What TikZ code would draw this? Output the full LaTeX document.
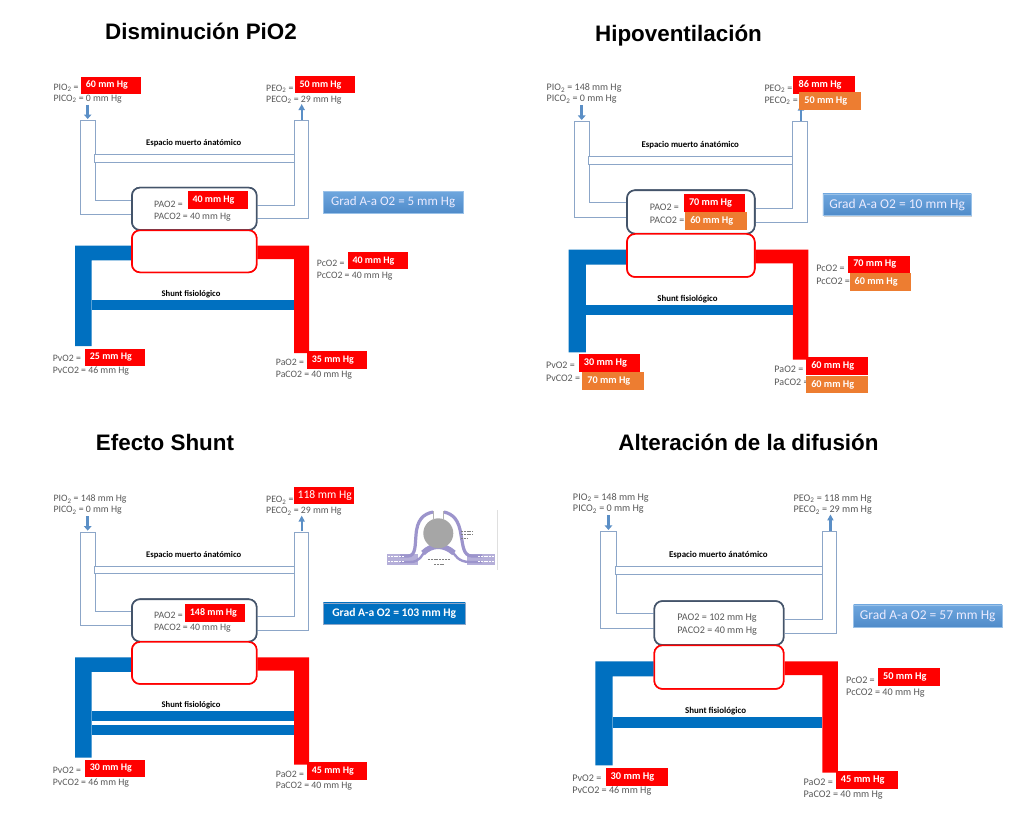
\documentclass[tikz,border=0pt]{standalone}
\usepackage{fontspec}
\setmainfont{Carlito}
\newfontfamily\titlefont{Liberation Sans}
\usetikzlibrary{arrows.meta,shadows}
\definecolor{ductline}{HTML}{8CA6C8}
\definecolor{artblue}{HTML}{0070C0}
\definecolor{labelgrey}{HTML}{595959}
\definecolor{alvframe}{HTML}{44546A}
\definecolor{flowarrow}{HTML}{5B8FC6}
\definecolor{boxorange}{HTML}{ED7D31}
\definecolor{insetviolet}{HTML}{9C94CC}
\definecolor{GradTop}{HTML}{6EA6DE}
\definecolor{GradBottom}{HTML}{4F8BC9}
\tikzset{
  duct/.style={draw=ductline,line width=1pt,fill=none,line join=miter},
  deadspace/.style={draw=ductline,line width=1pt,fill=white},
  alveolus/.style={draw=alvframe,line width=1.6pt,fill=white,rounded corners=8pt,minimum width=124.7pt,minimum height=42.3pt,inner sep=0pt},
  capillary/.style={draw=red,line width=1.6pt,fill=white,rounded corners=8pt,minimum width=124.7pt,minimum height=42pt,inner sep=0pt},
  flowin/.style={color=flowarrow,line width=3.2pt,-{Triangle[length=4.5pt,width=7.5pt]}},
  flowout/.style={color=flowarrow,line width=2.4pt,-{Triangle[length=6pt,width=6pt]}},
  gas/.style={anchor=west,inner sep=0pt,yshift=-1pt,text=labelgrey,font=\fontsize{9.8}{12}\selectfont},
  heading/.style={inner sep=0pt,text=black,font=\fontsize{8.6}{10}\selectfont\bfseries},
  valuebox/.style={anchor=north west,inner xsep=5pt,inner ysep=0pt,minimum width=60pt,minimum height=17.4pt,text=white,font=\fontsize{10}{12}\selectfont\bfseries},
  gradbox/.style={anchor=north west,inner sep=0pt,top color=GradTop,bottom color=GradBottom,draw=GradTop!70!white,line width=.5pt,text=white!92!blue,drop shadow={shadow xshift=.6pt,shadow yshift=-1pt,opacity=.35},font=\fontsize{13.5}{16}\selectfont},
  title/.style={inner sep=0pt,text=black,font=\titlefont\fontsize{22.4}{26}\selectfont\bfseries},
}

% Anatomical airway, alveolus, capillary and blood loop shared by all four sketches
\newcommand\lungbase{%
  \coordinate (tPIO) at (53.3,86.7); \coordinate (tPICO) at (53.3,98);
  \coordinate (tPEO) at (266,87.7); \coordinate (tPECO) at (266,99);
  \coordinate (tPAO) at (154,203); \coordinate (tPACO) at (154,215.7);
  \coordinate (tPC) at (316.7,262.7); \coordinate (tPCC) at (316.7,275.3);
  \coordinate (tPV) at (52.7,357.7); \coordinate (tPVC) at (52.7,370);
  \coordinate (tPA) at (275.7,361.7); \coordinate (tPAC) at (275.7,374);
  \coordinate (inTop) at (87.7,104.7); \coordinate (inEnd) at (87.7,119);
  \coordinate (outStart) at (301.7,119.7); \coordinate (outEnd) at (301.7,104);
  \path (194.3,208.8) node[alveolus] (alv) {};
  \path (194.3,251.3) node[capillary] (cap) {};
  \draw[duct] (alv.west |- 0,200) -| (95.3,120.7) -| (80.3,214) -- (alv.west |- 0,214);
  \draw[duct] (alv.east |- 0,205) -| (294,120.7) -| (308,218.7) -- (alv.east |- 0,218.7);
  \draw[deadspace] (94.3,154.7) rectangle (294,162.3);
  \fill[artblue] (cap.west |- 0,245.7) -| (75,346) -| (91.7,260.3) -- (cap.west |- 0,260.3) -- cycle;
  \fill[red] (cap.east |- 0,245.7) -| (309,353) -| (294,259) -- (cap.east |- 0,259) -- cycle;
  \path (194.3,208.8) node[alveolus] (alv) {};
  \path (194.3,251.3) node[capillary] (cap) {};
  \draw[flowin] (inTop) -- (inEnd);
  \draw[flowout] (outStart) -- (outEnd);
  \node[heading] (dead) at (193.7,143.3) {Espacio muerto ánatómico};
  \node[heading] (shuntlabel) at (191,293.7) {Shunt fisiológico};
}
\newcommand\gas[3]{\node[gas] (#1) at (#2) {#3};}
\newcommand\val[5]{\node[valuebox,fill=#2] (#1) at (#3,#4) {\raisebox{-.7pt}{\makebox[50pt][l]{#5}}};}
\newcommand\sub{\textsubscript{2}}

\begin{document}
\begin{tikzpicture}[x=1pt,y=-1pt]
\useasboundingbox (0,0) rectangle (1020,836);
\fill[white] (0,0) rectangle (1020,836);

% Sketch 1: lowered inspired oxygen
\begin{scope}[name prefix=a-]
  \lungbase
  \fill[artblue] (91.7,299.7) rectangle (294,309.7);
  \gas{pio}{tPIO}{PIO\sub{} =} \gas{pico}{tPICO}{PICO\sub{} = 0 mm Hg}
  \gas{peo}{tPEO}{PEO\sub{} =} \gas{peco}{tPECO}{PECO\sub{} = 29 mm Hg}
  \gas{pao}{tPAO}{PAO2 =} \gas{paco}{tPACO}{PACO2 = 40 mm Hg}
  \gas{pc}{tPC}{PcO2 =} \gas{pcc}{tPCC}{PcCO2 = 40 mm Hg}
  \gas{pv}{tPV}{PvO2 =} \gas{pvc}{tPVC}{PvCO2 = 46 mm Hg}
  \gas{pa}{tPA}{PaO2 =} \gas{pac}{tPAC}{PaCO2 = 40 mm Hg}
  \val{vpio}{red}{80.7}{76.3}{60 mm Hg}
  \val{vpeo}{red}{294.3}{75.7}{50 mm Hg}
  \val{vpao}{red}{187.3}{191}{40 mm Hg}
  \val{vpc}{red}{347.3}{251.7}{40 mm Hg}
  \val{vpv}{red}{84.7}{348.3}{25 mm Hg}
  \val{vpa}{red}{306.7}{351}{35 mm Hg}
\end{scope}

% Sketch 2: hypoventilation
\begin{scope}[shift={(491.9,-1.9)},scale=1.024,transform shape,name prefix=b-]
  \lungbase
  \fill[artblue] (91.7,299.7) rectangle (294,309.7);
  \gas{pio}{tPIO}{PIO\sub{} = 148 mm Hg} \gas{pico}{tPICO}{PICO\sub{} = 0 mm Hg}
  \gas{peo}{tPEO}{PEO\sub{} =} \gas{peco}{tPECO}{PECO\sub{} =}
  \gas{pao}{tPAO}{PAO2 =} \gas{paco}{tPACO}{PACO2 =}
  \gas{pc}{tPC}{PcO2 =} \gas{pcc}{tPCC}{PcCO2 =}
  \gas{pv}{tPV}{PvO2 =} \gas{pvc}{tPVC}{PvCO2 =}
  \gas{pa}{tPA}{PaO2 =} \gas{pac}{tPAC}{PaCO2 =}
  \val{vpeo}{red}{294.3}{75.7}{86 mm Hg}
  \val{vpeco}{boxorange}{299.9}{91.7}{50 mm Hg}
  \val{vpao}{red}{187.3}{191}{70 mm Hg}
  \val{vpaco}{boxorange}{188.5}{208.6}{60 mm Hg}
  \val{vpc}{red}{347.7}{251.2}{70 mm Hg}
  \val{vpcc}{boxorange}{349.1}{268.2}{60 mm Hg}
  \val{vpv}{red}{84.7}{347.6}{30 mm Hg}
  \val{vpvc}{boxorange}{88}{365.1}{70 mm Hg}
  \val{vpa}{red}{306.7}{350.2}{60 mm Hg}
  \val{vpac}{boxorange}{306.7}{368.4}{60 mm Hg}
\end{scope}

% Sketch 3: shunt effect, with the doubled shunt vessel
\begin{scope}[shift={(0,411.6)},name prefix=c-]
  \lungbase
  \fill[artblue] (91.7,299.1) rectangle (294,309.1);
  \fill[artblue] (91.7,313.4) rectangle (294,323.4);
  \gas{pio}{tPIO}{PIO\sub{} = 148 mm Hg} \gas{pico}{tPICO}{PICO\sub{} = 0 mm Hg}
  \gas{peo}{tPEO}{PEO\sub{} =} \gas{peco}{tPECO}{PECO\sub{} = 29 mm Hg}
  \gas{pao}{tPAO}{PAO2 =} \gas{paco}{tPACO}{PACO2 = 40 mm Hg}
  \gas{pv}{tPV}{PvO2 =} \gas{pvc}{tPVC}{PvCO2 = 46 mm Hg}
  \gas{pa}{tPA}{PaO2 =} \gas{pac}{tPAC}{PaCO2 = 40 mm Hg}
  \node[valuebox,fill=red,inner xsep=3.5pt,font=\fontsize{11.6}{14}\selectfont] (vpeo) at (294,75) {\makebox[53pt][l]{118 mm Hg}};
  \val{vpao}{red}{184.7}{192.4}{148 mm Hg}
  \val{vpv}{red}{84.7}{347.7}{30 mm Hg}
  \val{vpa}{red}{306.7}{350.4}{45 mm Hg}
\end{scope}

% Sketch 4: impaired diffusion
\begin{scope}[shift={(517.5,406.5)},scale=1.037,transform shape,name prefix=d-]
  \lungbase
  \fill[artblue] (91.7,299.7) rectangle (294,309.7);
  \gas{pio}{tPIO}{PIO\sub{} = 148 mm Hg} \gas{pico}{tPICO}{PICO\sub{} = 0 mm Hg}
  \gas{peo}{tPEO}{PEO\sub{} = 118 mm Hg} \gas{peco}{tPECO}{PECO\sub{} = 29 mm Hg}
  \gas{pao}{tPAO}{PAO2 = 102 mm Hg} \gas{paco}{tPACO}{PACO2 = 40 mm Hg}
  \gas{pc}{tPC}{PcO2 =} \gas{pcc}{tPCC}{PcCO2 = 40 mm Hg}
  \gas{pv}{tPV}{PvO2 =} \gas{pvc}{tPVC}{PvCO2 = 46 mm Hg}
  \gas{pa}{tPA}{PaO2 =} \gas{pac}{tPAC}{PaCO2 = 40 mm Hg}
  \val{vpc}{red}{347.3}{251.7}{50 mm Hg}
  \val{vpv}{red}{84.7}{348.3}{30 mm Hg}
  \val{vpa}{red}{306.7}{351}{45 mm Hg}
\end{scope}

% Gradient read-outs
\node[gradbox,minimum width=139.7pt,minimum height=21.7pt,font=\fontsize{13}{16}\selectfont] (grad1) at (323,191) {Grad A-a O2 = 5 mm Hg};
\node[gradbox,minimum width=148.3pt,minimum height=21.6pt] (grad2) at (822.7,193.7) {Grad A-a O2 = 10 mm Hg};
\node[gradbox,minimum width=142pt,minimum height=21.3pt,top color=artblue,bottom color=artblue,draw=ductline,text=white,font=\fontsize{11.6}{14}\selectfont\bfseries] (grad3) at (323,602.7) {Grad A-a O2 = 103 mm Hg\hspace{14pt}};
\node[gradbox,minimum width=148.4pt,minimum height=22pt] (grad4) at (853.3,604.7) {Grad A-a O2 = 57 mm Hg};

% Titles
\node[title] (t1) at (201,31) {Disminución PiO2};
\node[title] (t2) at (678.5,36) {Hipoventilación};
\node[title] (t3) at (165,442) {Efecto Shunt};
\node[title] (t4) at (748.5,442) {Alteración de la difusión};

% Small alveolar inset beside the shunt sketch
\begin{scope}
  \fill[insetviolet!75!white] (386.7,553.5) rectangle (418,565);
  \fill[insetviolet!75!white] (466.7,553.5) rectangle (495,565);
  \draw[insetviolet,line width=3.2pt] (400,556) -- (408,556) .. controls (416,556) and (415,545) .. (416,535) .. controls (417,520) and (423,514) .. (433,512);
  \draw[insetviolet,line width=3.2pt] (482,556) -- (472,556) .. controls (463,556) and (463,545) .. (461,535) .. controls (459,520) and (453,514) .. (444,512);
  \draw[insetviolet,line width=2.4pt] (400,562) -- (410,562) .. controls (420,562) and (422,555) .. (425,551);
  \draw[insetviolet,line width=2.4pt] (482,562) -- (470,562) .. controls (458,562) and (455,555) .. (452,551);
  \draw[insetviolet,line width=5.5pt] (423,553) .. controls (432,544) and (444,544) .. (454,553);
  \fill[gray!70] (438.3,533.3) circle (15pt);
  \draw[gray!60,line width=.6pt] (433.5,511) -- (433.5,520);
  \draw[gray!60,line width=.6pt] (443.5,511) -- (443.5,520);
  \draw[gray!25,line width=.5pt] (497,510) -- (497,570);
  % Fine print of the inset, too small to read at this size
  \draw[gray,line width=.5pt,dash pattern=on 2pt off .8pt] (461,531) -- (473,531) (461,534.5) -- (473,534.5) (461,538) -- (467,538);
  \draw[gray,line width=.5pt,dash pattern=on 2pt off .8pt] (428,559) -- (450,559) (434,564.5) -- (444,564.5);
  \draw[white,line width=.6pt,dash pattern=on 2pt off .8pt] (388,556.5) -- (404,556.5) (388,561.5) -- (404,561.5) (478,556.5) -- (494,556.5) (478,561.5) -- (494,561.5);
\end{scope}
\end{tikzpicture}
\end{document}
